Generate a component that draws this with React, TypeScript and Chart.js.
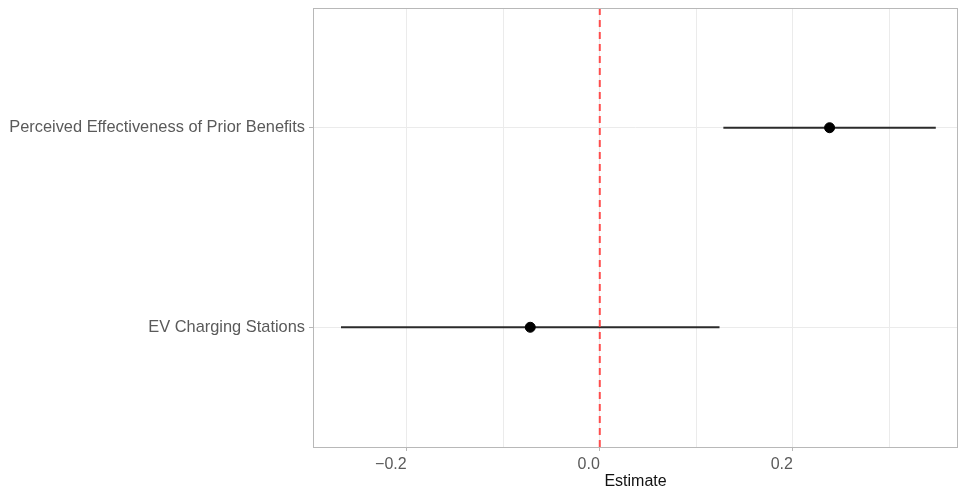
import React, { useEffect, useRef } from "react";
import { Chart, registerables } from "chart.js";

Chart.register(...registerables);

const terms = ["EV Charging Stations", "Perceived Effectiveness of Prior Benefits"];
const termPositions = [1, 2];
const estimates = [-0.072, 0.238];
const lowerCI = [-0.268, 0.128];
const upperCI = [0.124, 0.348];
const referenceValue = 0;
const xTickValues = [-0.2, -0.1, 0, 0.1, 0.2, 0.3];
const xTickLabels = ["\u22120.2", "", "0.0", "", "0.2", ""];
const xAxisTitle = "Estimate";

const FONT = "'Liberation Sans', Arial, sans-serif";

const borderPlugin = {
  id: "panelBorder",
  afterDraw(chart: any) {
    const { ctx, chartArea } = chart;
    ctx.save();
    ctx.strokeStyle = "#b8b8b8";
    ctx.lineWidth = 1;
    ctx.strokeRect(chartArea.left + 0.5, chartArea.top + 0.5, chartArea.right - chartArea.left - 1, chartArea.bottom - chartArea.top);
    ctx.restore();
  },
};

export default function App() {
  const ref = useRef<HTMLCanvasElement>(null);
  useEffect(() => {
    document.body.style.margin = "0";
    const datasets: any[] = [];
    terms.forEach((t, i) => {
      datasets.push({
        type: "line",
        label: t + " CI",
        data: [
          { x: lowerCI[i], y: termPositions[i] },
          { x: upperCI[i], y: termPositions[i] },
        ],
        borderColor: "#2b2b2b",
        borderWidth: 2,
        pointRadius: 0,
        order: 3,
      });
    });
    datasets.push({
      type: "scatter",
      label: "Estimate",
      data: terms.map((t, i) => ({ x: estimates[i], y: termPositions[i] })),
      backgroundColor: "#000",
      borderColor: "#000",
      pointRadius: 5,
      order: 1,
    });
    datasets.push({
      type: "line",
      label: "Reference",
      data: [
        { x: referenceValue, y: 0.4 },
        { x: referenceValue, y: 2.6 },
      ],
      borderColor: "rgba(255,60,60,0.9)",
      borderWidth: 2,
      borderDash: [7, 5],
      pointRadius: 0,
      order: 2,
    });

    const chart = new Chart(ref.current!, {
      type: "scatter",
      data: { datasets },
      plugins: [borderPlugin],
      options: {
        animation: false,
        responsive: false,
        layout: { autoPadding: false, padding: { top: 8, right: 1, left: 0, bottom: 0 } },
        plugins: { legend: { display: false }, tooltip: { enabled: false } },
        scales: {
          x: {
            type: "linear",
            min: -0.297,
            max: 0.371,
            afterBuildTicks: (scale: any) => {
              scale.ticks = xTickValues.map((v) => ({ value: v }));
            },
            afterFit: (scale: any) => {
              scale.height = 44;
            },
            ticks: {
              align: "end",
              padding: 4,
              color: "#5a5a5a",
              font: { family: FONT, size: 16 },
              autoSkip: false,
              maxRotation: 0,
              callback: (v: any, idx: number) => xTickLabels[idx] ?? "",
            },
            grid: {
              color: "#ebebeb",
              lineWidth: 1,
              tickLength: 4,
              tickColor: (c: any) => (xTickLabels[c.index] ? "#b8b8b8" : "rgba(0,0,0,0)"),
            },
            border: { display: false },
            title: {
              display: true,
              text: xAxisTitle,
              color: "#111",
              font: { family: FONT, size: 16 },
              padding: { top: 0, bottom: 0 },
            },
          },
          y: {
            type: "linear",
            min: 0.4,
            max: 2.6,
            afterBuildTicks: (scale: any) => {
              scale.ticks = termPositions.map((v) => ({ value: v }));
            },
            afterFit: (scale: any) => {
              scale.width = 313;
              scale.paddingTop = 0;
              scale.paddingBottom = 0;
            },
            ticks: {
              padding: 4,
              color: "#5a5a5a",
              font: { family: FONT, size: 16.4 },
              callback: (v: any) => terms[termPositions.indexOf(Number(v))] ?? "",
            },
            grid: { color: "#ebebeb", lineWidth: 1, tickLength: 4, tickColor: "#b8b8b8" },
            border: { display: false },
          },
        },
      },
    });
    return () => chart.destroy();
  }, []);
  return (
    <div style={{ position: "fixed", left: 0, top: 0, width: 959, height: 491, background: "#fff" }}>
      <canvas ref={ref} width={959} height={491} style={{ width: 959, height: 491 }} />
    </div>
  );
}
